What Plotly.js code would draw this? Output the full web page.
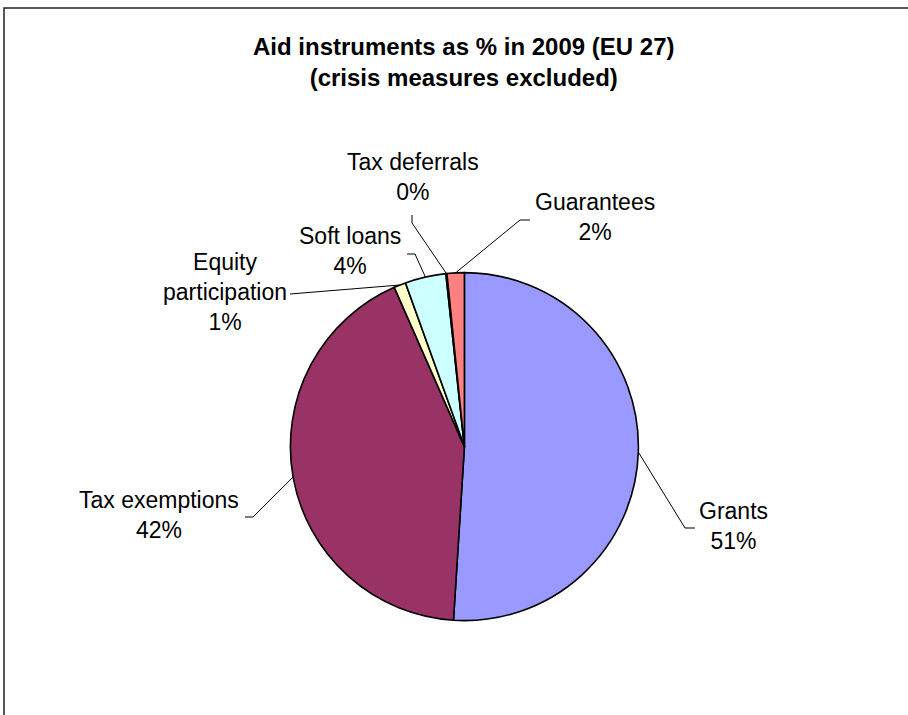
<!DOCTYPE html>
<html>
<head>
<meta charset="utf-8">
<script src="https://cdn.plot.ly/plotly-3.0.1.min.js"></script>
<style>html,body{margin:0;padding:0;background:#fff;}#chart{width:908px;height:715px;}</style>
</head>
<body>
<div id="chart"></div>
<script>
// Data
const categories = ["Grants", "Tax exemptions", "Equity participation", "Soft loans", "Tax deferrals", "Guarantees"];
const values = [51.0, 42.4, 1.1, 3.8, 0.1, 1.6];
const displayLabels = ["Grants", "Tax exemptions", "Equity<br>participation", "Soft loans", "Tax deferrals", "Guarantees"];
const colors = ["#9999FF", "#993366", "#FFFFCC", "#CCFFFF", "#660066", "#FF8080"];
const titleLines = ["Aid instruments as % in 2009 (EU 27)", "(crisis measures excluded)"];

// Layout (pixels)
const W = 908, H = 715;
const cx = 464.4, cy = 446.6, R = 174;
// label block centres and leader-line points (after the point on the pie edge)
const labelPos = [
  {x: 733, y: 526, path: [[685, 528], [695, 528]]},
  {x: 158.5, y: 515, path: [[253, 517], [245, 517]]},
  {x: 225, y: 292, path: [[290, 294]]},
  {x: 350, y: 251, path: [[415, 254], [407, 254]]},
  {x: 413, y: 177, path: [[412, 223], [412, 215]]},
  {x: 595, y: 217, path: [[520, 220], [530, 220]]}
];

const px = x => x / W;
const py = y => 1 - y / H;
const FONT = 'Liberation Sans, Arial, sans-serif';

const total = values.reduce((a, b) => a + b, 0);
const annotations = [];
const shapes = [];
let acc = 0;
values.forEach((v, i) => {
  const mid = (acc + v / 2) / total * 2 * Math.PI;
  acc += v;
  const sx = cx + R * Math.sin(mid);
  const sy = cy - R * Math.cos(mid);
  const pct = Math.round(v / total * 100);
  const lp = labelPos[i];
  let d = `M ${px(sx)} ${py(sy)}`;
  lp.path.forEach(p => { d += ` L ${px(p[0])} ${py(p[1])}`; });
  shapes.push({type: 'path', xref: 'paper', yref: 'paper', path: d, line: {color: '#000', width: 1}});
  annotations.push({
    xref: 'paper', yref: 'paper', x: px(lp.x), y: py(lp.y),
    xanchor: 'center', yanchor: 'middle', showarrow: false, align: 'center',
    text: displayLabels[i] + '<br>' + pct + '%',
    font: {family: FONT, size: 23, color: '#000'}
  });
});

// title
annotations.push({
  xref: 'paper', yref: 'paper', x: px(463), y: py(62),
  xanchor: 'center', yanchor: 'middle', showarrow: false, align: 'center',
  text: '<b>' + titleLines.join('<br>') + '</b>',
  font: {family: FONT, size: 24, color: '#000'}
});

// outer chart border
shapes.push({type: 'rect', xref: 'paper', yref: 'paper', x0: px(4), x1: px(930), y0: py(740), y1: py(8),
  line: {color: '#222', width: 1.5}, fillcolor: 'rgba(0,0,0,0)'});

const trace = {
  type: 'pie',
  labels: categories,
  values: values,
  sort: false,
  direction: 'clockwise',
  rotation: 0,
  textinfo: 'none',
  hoverinfo: 'label+percent',
  marker: {colors: colors, line: {color: '#000', width: 1.6}},
  domain: {x: [px(cx - R), px(cx + R)], y: [py(cy + R), py(cy - R)]},
  showlegend: false
};

const layout = {
  width: W, height: H,
  margin: {l: 0, r: 0, t: 0, b: 0},
  paper_bgcolor: '#fff',
  showlegend: false,
  annotations: annotations,
  shapes: shapes
};

Plotly.newPlot('chart', [trace], layout, {displayModeBar: false, staticPlot: true});
</script>
</body>
</html>
